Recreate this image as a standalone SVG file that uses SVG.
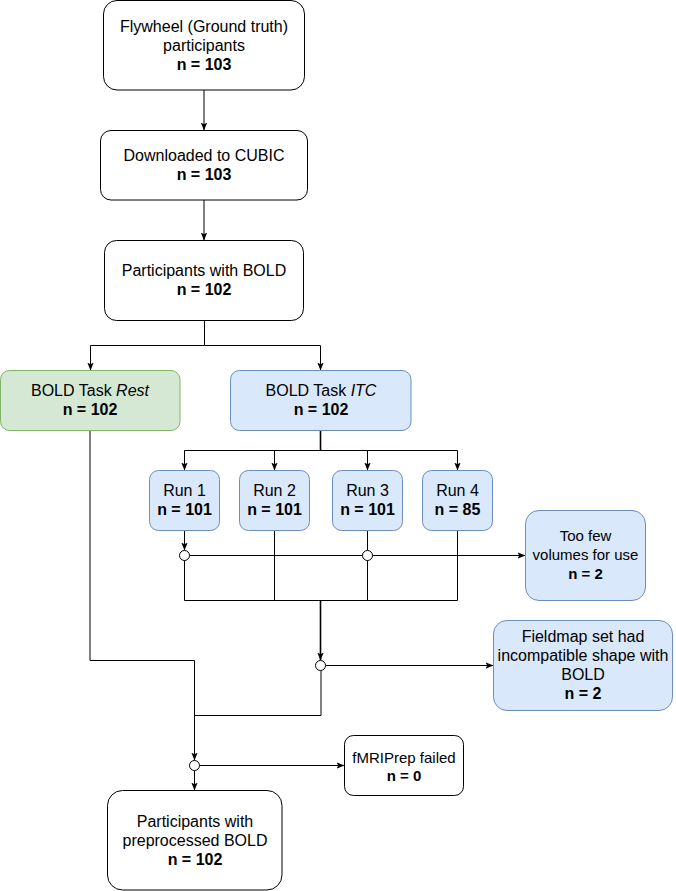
<svg xmlns="http://www.w3.org/2000/svg" width="676" height="891" viewBox="0 0 676 891">
<defs>
<style>
.b{fill:#fff;stroke:#000;stroke-width:1}
.g{fill:#d5e8d4;stroke:#82b366;stroke-width:1}
.u{fill:#dae8fc;stroke:#6c8ebf;stroke-width:1}
text{font-family:"Liberation Sans",Arial,Helvetica,sans-serif;font-size:16px;fill:#000;text-anchor:middle}
.s{font-size:15px}
.n{font-weight:bold}
.e{fill:none;stroke:#000;stroke-width:1}
.t{fill:none;stroke:#000;stroke-width:1.6}
.j{fill:#fff;stroke:#000;stroke-width:1}
</style>
<marker id="a" viewBox="0 0 8 8" refX="7.5" refY="4" markerWidth="8" markerHeight="8" markerUnits="userSpaceOnUse" orient="auto">
<path d="M0,0.8 L8,4 L0,7.2 L1.8,4 z" fill="#000"/>
</marker>
</defs>
<g id="connectors">
<path class="e" d="M204,90 V130" marker-end="url(#a)"/>
<path class="e" d="M204,200 V240" marker-end="url(#a)"/>
<path class="e" d="M204.5,320 V345.5 H90.5 V370" marker-end="url(#a)"/>
<path class="e" d="M204.5,345.5 H320.5 V370" marker-end="url(#a)"/>
<path class="t" d="M320.5,430 V450.5"/>
<path class="e" d="M184.5,470 V450.5 H457.5 V470" marker-end="url(#a)"/>
<path class="e" d="M184.5,450.5 V470" marker-end="url(#a)"/>
<path class="e" d="M274.5,450.5 V470" marker-end="url(#a)"/>
<path class="e" d="M367.5,450.5 V470" marker-end="url(#a)"/>
<path class="e" d="M184.5,530 V550" marker-end="url(#a)"/>
<path class="e" d="M189.5,555.5 H525" marker-end="url(#a)"/>
<path class="e" d="M367.5,530 V550"/>
<path class="e" d="M184.5,560 V600.5 H457.5 V530"/>
<path class="e" d="M274.5,530 V600.5"/>
<path class="e" d="M367.5,560 V600.5"/>
<path class="t" d="M320.5,600.5 V660" marker-end="url(#a)"/>
<path class="e" d="M325.5,665.5 H493" marker-end="url(#a)"/>
<path class="e" d="M321,670 V715.5 H194.5"/>
<path class="e" d="M90,430 V660.5 H194.5 V760" marker-end="url(#a)"/>
<path class="e" d="M199.5,765.5 H344" marker-end="url(#a)"/>
<path class="e" d="M194.5,770.5 V790" marker-end="url(#a)"/>
<circle class="j" cx="184.5" cy="555.5" r="5"/>
<circle class="j" cx="367.5" cy="555.5" r="5"/>
<circle class="j" cx="320.5" cy="665.5" r="5"/>
<circle class="j" cx="194.5" cy="765.5" r="5"/>
</g>
<g id="flywheel">
<rect class="b" x="103.5" y="0.5" width="201" height="89.5" rx="13.5"/>
<text x="204" y="31.5">Flywheel (Ground truth)</text>
<text x="204" y="50.5">participants</text>
<text class="n" x="204" y="69.7">n = 103</text>
</g>
<g id="downloaded">
<rect class="b" x="100.5" y="130.5" width="207" height="69.5" rx="10.5"/>
<text x="204" y="160.7">Downloaded to CUBIC</text>
<text class="n" x="204" y="179.9">n = 103</text>
</g>
<g id="with-bold">
<rect class="b" x="104.5" y="240.5" width="199" height="80" rx="12"/>
<text x="204" y="275.7">Participants with BOLD</text>
<text class="n" x="204" y="294.9">n = 102</text>
</g>
<g id="rest">
<rect class="g" x="0.5" y="370.5" width="179.5" height="60" rx="9"/>
<text x="90" y="395.7">BOLD Task <tspan font-style="italic">Rest</tspan></text>
<text class="n" x="90" y="414.9">n = 102</text>
</g>
<g id="itc">
<rect class="u" x="230.5" y="370.5" width="180.5" height="60" rx="9"/>
<text x="321" y="395.7">BOLD Task <tspan font-style="italic">ITC</tspan></text>
<text class="n" x="321" y="414.9">n = 102</text>
</g>
<g id="run1">
<rect class="u" x="149.5" y="470.5" width="70" height="60" rx="9"/>
<text x="184.5" y="495.7">Run 1</text>
<text class="n" x="184.5" y="514.9">n = 101</text>
</g>
<g id="run2">
<rect class="u" x="239.5" y="470.5" width="70" height="60" rx="9"/>
<text x="274.5" y="495.7">Run 2</text>
<text class="n" x="274.5" y="514.9">n = 101</text>
</g>
<g id="run3">
<rect class="u" x="332.5" y="470.5" width="70" height="60" rx="9"/>
<text x="367.5" y="495.7">Run 3</text>
<text class="n" x="367.5" y="514.9">n = 101</text>
</g>
<g id="run4">
<rect class="u" x="422.5" y="470.5" width="70" height="60" rx="9"/>
<text x="457.5" y="495.7">Run 4</text>
<text class="n" x="457.5" y="514.9">n = 85</text>
</g>
<g id="too-few">
<rect class="u" x="525.5" y="510.5" width="120" height="90" rx="13.5"/>
<text class="s" x="585.5" y="541">Too few</text>
<text class="s" x="585.5" y="560">volumes for use</text>
<text class="s n" x="585.5" y="579">n = 2</text>
</g>
<g id="fieldmap">
<rect class="u" x="493.5" y="620.5" width="179" height="90" rx="13.5"/>
<text x="583" y="641.8">Fieldmap set had</text>
<text x="583" y="661">incompatible shape with</text>
<text x="583" y="680.2">BOLD</text>
<text class="n" x="583" y="699.4">n = 2</text>
</g>
<g id="fmriprep">
<rect class="b" x="344.5" y="735.5" width="119" height="60" rx="9"/>
<text class="s" x="404" y="762.5">fMRIPrep failed</text>
<text class="s n" x="404" y="780.5">n = 0</text>
</g>
<g id="preprocessed">
<rect class="b" x="107.5" y="790.5" width="174.5" height="99.5" rx="15"/>
<text x="195" y="826.6">Participants with</text>
<text x="195" y="845.8">preprocessed BOLD</text>
<text class="n" x="195" y="865">n = 102</text>
</g>
</svg>
